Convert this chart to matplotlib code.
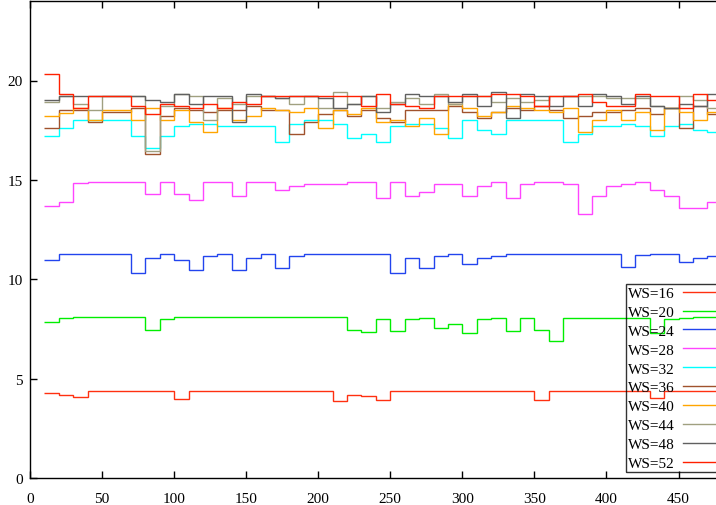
import matplotlib
matplotlib.use("Agg")
import matplotlib.pyplot as plt
import numpy as np

plt.rcParams["font.family"] = ["Liberation Serif", "DejaVu Serif"]

# window start positions, each value holds until the next start
window_start = list(range(10, 480, 10))
step_width = 10

ws_labels = ["WS=16", "WS=20", "WS=24", "WS=28", "WS=32",
             "WS=36", "WS=40", "WS=44", "WS=48", "WS=52"]

ws16 = [4.30, 4.19, 4.09, 4.36, 4.36, 4.36, 4.36, 4.36, 4.36, 3.98,
        4.36, 4.36, 4.36, 4.36, 4.36, 4.36, 4.36, 4.36, 4.36, 4.36,
        3.88, 4.19, 4.13, 3.91, 4.36, 4.36, 4.36, 4.36, 4.36, 4.36,
        4.36, 4.36, 4.36, 4.36, 3.94, 4.36, 4.36, 4.36, 4.36, 4.36,
        4.36, 4.36, 4.01, 4.36, 4.36, 4.36, 4.36]

ws20 = [7.83, 8.07, 8.08, 8.10, 8.10, 8.10, 8.08, 7.43, 8.01, 8.10,
        8.10, 8.10, 8.10, 8.10, 8.10, 8.10, 8.10, 8.10, 8.10, 8.10,
        8.10, 7.47, 7.37, 8.01, 7.40, 8.01, 8.06, 7.57, 7.73, 7.30,
        8.01, 8.07, 7.40, 8.06, 7.43, 6.90, 8.04, 8.07, 8.07, 8.07,
        8.07, 8.07, 7.30, 8.01, 8.07, 8.08, 8.08]

ws24 = [10.99, 11.29, 11.29, 11.29, 11.29, 11.29, 10.30, 11.09, 11.29, 10.99,
        10.49, 11.19, 11.29, 10.49, 11.09, 11.29, 10.59, 11.19, 11.29, 11.29,
        11.29, 11.29, 11.29, 11.29, 10.30, 11.09, 10.59, 11.19, 11.29, 10.79,
        11.09, 11.19, 11.29, 11.29, 11.29, 11.29, 11.29, 11.29, 11.29, 11.29,
        10.60, 11.24, 11.29, 11.29, 10.89, 11.09, 11.19]

ws28 = [13.70, 13.91, 14.82, 14.90, 14.90, 14.90, 14.90, 14.30, 14.90, 14.30,
        14.00, 14.90, 14.90, 14.20, 14.90, 14.90, 14.50, 14.70, 14.80, 14.80,
        14.80, 14.90, 14.90, 14.10, 14.90, 14.20, 14.40, 14.80, 14.80, 14.20,
        14.70, 14.90, 14.10, 14.80, 14.90, 14.90, 14.80, 13.29, 14.20, 14.70,
        14.80, 14.90, 14.50, 14.20, 13.60, 13.60, 13.90]

ws32 = [17.22, 17.62, 18.03, 18.03, 18.03, 18.03, 17.22, 16.62, 17.22, 17.72,
        17.82, 17.82, 17.72, 17.72, 17.72, 17.72, 16.92, 17.82, 18.03, 18.03,
        17.82, 17.12, 17.32, 16.92, 17.72, 17.82, 17.82, 17.62, 17.12, 18.03,
        17.52, 17.32, 18.03, 18.03, 18.03, 18.03, 16.92, 17.32, 17.72, 17.72,
        17.82, 17.72, 17.22, 17.72, 17.82, 17.52, 17.42]

ws36 = [17.62, 18.53, 18.53, 17.93, 18.43, 18.43, 18.60, 16.31, 18.23, 18.60,
        18.53, 18.43, 18.53, 18.53, 18.73, 18.53, 18.53, 17.32, 17.93, 18.33,
        18.53, 18.23, 18.53, 18.13, 17.93, 18.53, 18.53, 18.53, 18.73, 18.43,
        18.13, 18.43, 18.63, 18.53, 18.73, 18.53, 18.13, 18.23, 18.43, 18.43,
        18.53, 18.63, 18.33, 18.63, 17.62, 18.73, 18.33]

ws40 = [18.23, 18.36, 18.60, 18.03, 18.50, 18.50, 18.03, 18.60, 18.03, 18.53,
        17.93, 17.42, 18.63, 18.03, 18.23, 18.63, 18.53, 18.43, 18.63, 17.62,
        18.53, 18.33, 18.63, 17.93, 18.03, 17.72, 18.13, 17.32, 18.83, 18.63,
        18.23, 18.43, 18.73, 18.63, 18.53, 18.43, 18.63, 17.42, 18.03, 18.53,
        18.03, 18.43, 17.52, 18.63, 18.43, 18.03, 18.43]

ws44 = [18.93, 19.20, 18.83, 18.50, 19.22, 19.22, 19.22, 16.45, 18.73, 19.30,
        19.23, 18.03, 19.13, 18.83, 19.23, 19.23, 19.13, 18.83, 19.23, 18.63,
        19.40, 18.83, 19.23, 18.63, 18.93, 19.13, 18.83, 19.33, 18.83, 19.23,
        19.23, 18.93, 19.13, 18.93, 19.03, 19.23, 19.23, 19.23, 19.23, 19.13,
        19.13, 19.13, 18.73, 18.63, 19.23, 19.03, 18.63]

ws48 = [19.03, 19.22, 19.22, 19.22, 19.22, 19.22, 19.22, 19.03, 18.93, 19.33,
        18.83, 19.23, 19.23, 17.93, 19.33, 19.23, 19.13, 19.23, 19.23, 19.13,
        18.63, 18.83, 19.23, 18.43, 18.83, 19.33, 19.23, 19.23, 18.93, 19.33,
        18.73, 19.43, 18.13, 19.33, 19.23, 18.73, 19.23, 18.73, 19.33, 19.23,
        18.83, 19.23, 18.73, 18.63, 18.83, 18.73, 19.33]

ws52 = [20.31, 19.32, 18.63, 19.22, 19.22, 19.22, 18.73, 18.33, 18.83, 18.73,
        18.63, 18.83, 18.63, 18.93, 18.83, 19.23, 19.23, 19.23, 19.23, 19.23,
        19.23, 19.23, 18.73, 19.33, 18.83, 18.73, 18.63, 19.23, 19.23, 19.23,
        19.23, 19.33, 19.30, 19.23, 18.73, 19.23, 19.23, 19.33, 18.93, 18.73,
        18.73, 19.33, 19.23, 19.23, 18.63, 19.33, 19.03]

series = [ws16, ws20, ws24, ws28, ws32, ws36, ws40, ws44, ws48, ws52]
colors = ["#ff3010", "#00ee00", "#2244ee", "#ff44ff", "#00ffff",
          "#a0522d", "#ffa500", "#a0a080", "#606060", "#ff2000"]

fig = plt.figure(figsize=(7.16, 5.06), dpi=100)
ax = fig.add_axes([30 / 716, 27 / 506, 686 / 716, 477 / 506])

edges = np.append(window_start, window_start[-1] + step_width)
for vals, col, lab in zip(series, colors, ws_labels):
    ax.stairs(vals, edges, baseline=None, color=col, lw=1.0, label=lab)

ax.set_xlim(0, 476)
ax.set_ylim(0, 24)
ax.set_xticks(range(0, 451, 50))
ax.set_yticks(range(0, 21, 5))
ax.tick_params(direction="in", length=5, width=1, labelsize=11,
               top=True, right=False)
ax.tick_params(axis="x", pad=10)
ax.tick_params(axis="y", pad=5)
ax.spines["right"].set_visible(False)
for sp in ("left", "bottom", "top"):
    ax.spines[sp].set_linewidth(1.0)

# key box is see-through, the curves stay visible behind it
leg = ax.legend(loc="lower right", bbox_to_anchor=(1.008, 0.012),
                markerfirst=False, fontsize=11, frameon=True,
                fancybox=False, edgecolor="black",
                borderpad=0.15, borderaxespad=0, handlelength=2.4,
                handletextpad=0.5, labelspacing=0.34)
leg.get_frame().set_facecolor("none")
leg.get_frame().set_linewidth(1.0)
for h in leg.legend_handles:
    h.set_linewidth(1.0)

fig.savefig("out.png", dpi=100)
